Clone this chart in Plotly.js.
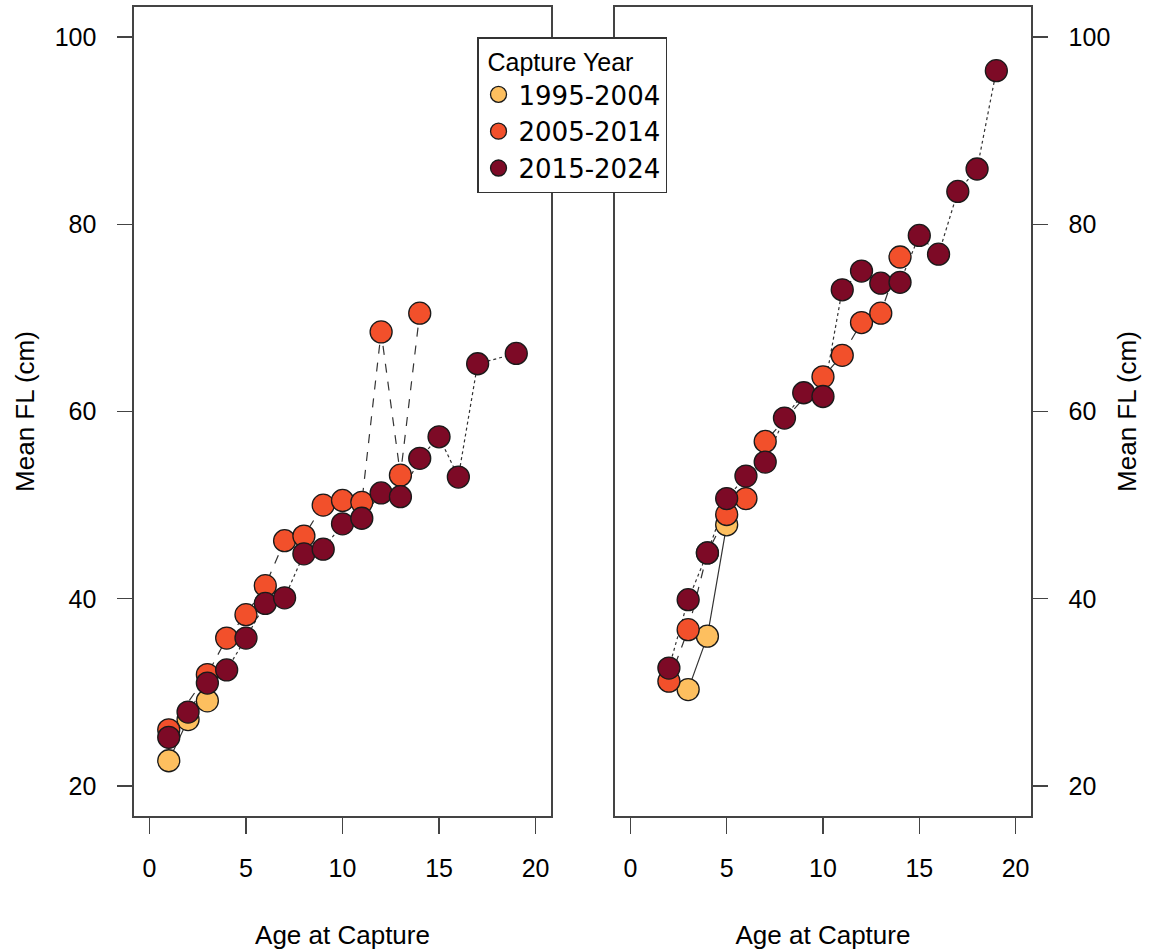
<!DOCTYPE html>
<html>
<head>
<meta charset="utf-8">
<script src="https://cdn.plot.ly/plotly-3.0.1.min.js"></script>
<style>html,body{margin:0;padding:0;background:#fff;}#chart{width:1149px;height:951px;}</style>
</head>
<body>
<div id="chart"></div>
<script>
// ---- Data ----
var groups = ["1995-2004", "2005-2014", "2015-2024"];
var colors = ["#FDBF5F", "#F2502B", "#7D0A26"];
var dashes = ["solid", "dash", "dot"];

// Left panel
var leftAge1995 = [1, 2, 3];
var leftFL1995  = [22.7, 27.1, 29.1];
var leftAge2005 = [1, 3, 4, 5, 6, 7, 8, 9, 10, 11, 12, 13, 14];
var leftFL2005  = [26.0, 31.9, 35.8, 38.3, 41.4, 46.2, 46.7, 50.0, 50.5, 50.3, 68.5, 53.2, 70.5];
var leftAge2015 = [1, 2, 3, 4, 5, 6, 7, 8, 9, 10, 11, 12, 13, 14, 15, 16, 17, 19];
var leftFL2015  = [25.2, 27.9, 31.0, 32.4, 35.8, 39.5, 40.1, 44.8, 45.3, 48.0, 48.6, 51.3, 50.9, 55.0, 57.3, 53.0, 65.1, 66.2];

// Right panel
var rightAge1995 = [3, 4, 5];
var rightFL1995  = [30.3, 36.0, 47.9];
var rightAge2005 = [2, 3, 4, 5, 6, 7, 10, 11, 12, 13, 14];
var rightFL2005  = [31.2, 36.7, 44.9, 49.0, 50.7, 56.8, 63.7, 66.0, 69.5, 70.5, 76.5];
var rightAge2015 = [2, 3, 4, 5, 6, 7, 8, 9, 10, 11, 12, 13, 14, 15, 16, 17, 18, 19];
var rightFL2015  = [32.6, 39.9, 44.9, 50.7, 53.1, 54.6, 59.3, 62.0, 61.6, 73.0, 75.0, 73.7, 73.8, 78.8, 76.8, 83.5, 85.9, 96.4];

var xTicks = [0, 5, 10, 15, 20];
var yTicks = [20, 40, 60, 80, 100];

// ---- Traces ----
var panels = [
  {xa: "x", ya: "y", ages: [leftAge1995, leftAge2005, leftAge2015], fls: [leftFL1995, leftFL2005, leftFL2015], legend: true},
  {xa: "x2", ya: "y2", ages: [rightAge1995, rightAge2005, rightAge2015], fls: [rightFL1995, rightFL2005, rightFL2015], legend: false}
];

var traces = [];
// lines first (behind markers)
panels.forEach(function (p) {
  for (var g = 0; g < 3; g++) {
    traces.push({
      type: "scatter", mode: "lines", x: p.ages[g], y: p.fls[g],
      xaxis: p.xa, yaxis: p.ya, showlegend: false, hoverinfo: "skip",
      line: {color: "#333333", width: 1.2, dash: dashes[g]}
    });
  }
});
// markers, drawn in group order
panels.forEach(function (p) {
  for (var g = 0; g < 3; g++) {
    traces.push({
      type: "scatter", mode: "markers", x: p.ages[g], y: p.fls[g],
      xaxis: p.xa, yaxis: p.ya, name: groups[g], showlegend: p.legend,
      marker: {size: 22, color: colors[g], line: {color: "#1a1a1a", width: 1.3}}
    });
  }
});

var tickFont = {family: "Liberation Sans, Arial, sans-serif", size: 25, color: "#000"};
var titleFont = {family: "Liberation Sans, Arial, sans-serif", size: 26, color: "#000"};

function xAxis(domain, anchor) {
  return {
    domain: domain, anchor: anchor, range: [-0.8, 20.8], tickvals: xTicks, ticktext: xTicks.map(String),
    showgrid: false, zeroline: false, showline: true, mirror: true, linecolor: "#444", linewidth: 1.6,
    ticks: "outside", ticklen: 16, tickwidth: 1.3, tickcolor: "#444", ticklabelstandoff: 13,
    tickfont: tickFont, title: {text: "Age at Capture", font: titleFont, standoff: 45}
  };
}
function yAxis(anchor, side) {
  return {
    anchor: anchor, side: side, range: [16.8, 103.2], tickvals: yTicks, ticktext: yTicks.map(String),
    showgrid: false, zeroline: false, showline: true, mirror: true, linecolor: "#444", linewidth: 1.6,
    ticks: "outside", ticklen: 15, tickwidth: 1.3, tickcolor: "#444", ticklabelstandoff: 16,
    tickfont: tickFont, title: {text: "Mean FL (cm)", font: titleFont, standoff: side === "left" ? 12 : 8}
  };
}

var layout = {
  width: 1149, height: 951,
  margin: {l: 134, r: 118, t: 7, b: 135, pad: 0},
  paper_bgcolor: "#fff", plot_bgcolor: "#fff",
  xaxis: xAxis([0, 0.4649], "y"),
  yaxis: yAxis("x", "left"),
  xaxis2: xAxis([0.5362, 1], "y2"),
  yaxis2: yAxis("x2", "right"),
  showlegend: true,
  legend: {
    x: 0.3824, y: 0.9629, xanchor: "left", yanchor: "top",
    bgcolor: "#fff", bordercolor: "#333", borderwidth: 1.5,
    font: {family: "DejaVu Sans, sans-serif", size: 26, color: "#000"},
    title: {text: "\u00a0Capture Year", side: "top", font: {family: "Liberation Sans, Arial, sans-serif", size: 25, color: "#000"}},
    itemsizing: "trace", tracegroupgap: 0
  }
};

Plotly.newPlot("chart", traces, layout, {displayModeBar: false, staticPlot: true});
</script>
</body>
</html>
